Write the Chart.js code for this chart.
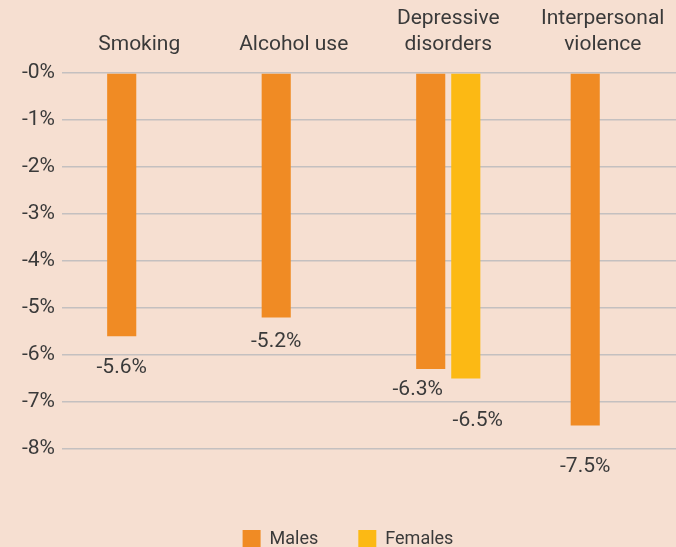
<!DOCTYPE html>
<html>
<head>
<meta charset="utf-8">
<script src="https://cdn.jsdelivr.net/npm/chart.js@4"></script>
<style>
  html, body { margin: 0; padding: 0; overflow: hidden; background: #f6dfd1; }
  #wrap { width: 680px; height: 558px; position: relative; }
</style>
</head>
<body>
<div id="wrap"><canvas id="chart"></canvas></div>
<script>
// ======================
// DATA
// ======================
const categories = ["Smoking", "Alcohol use", ["Depressive", "disorders"], ["Interpersonal", "violence"]];
const males = [-5.6, -5.2, -6.3, -7.5];
const females = [null, null, -6.5, null];
const yTicks = [0, -1, -2, -3, -4, -5, -6, -7, -8];

// label nudges (px) so the value text sits like the original
const nudgeX = [[0, 0, -13, 0], [0, 0, 12, 0]];
const nudgeY = [[32, 24, 21, 41], [0, 0, 42, 0]];

const TEXT = "#3a3a3a";
const FONT = "Roboto";

// draw value labels under each bar
const valueLabels = {
  id: "valueLabels",
  afterDatasetsDraw(chart) {
    const ctx = chart.ctx;
    ctx.save();
    ctx.font = "21px " + FONT;
    ctx.fillStyle = TEXT;
    ctx.textAlign = "center";
    ctx.textBaseline = "middle";
    chart.data.datasets.forEach((ds, di) => {
      const meta = chart.getDatasetMeta(di);
      meta.data.forEach((bar, i) => {
        const v = ds.data[i];
        if (v === null) return;
        ctx.fillText(v.toFixed(1) + "%", bar.x + nudgeX[di][i], bar.y + nudgeY[di][i]);
      });
    });
    ctx.restore();
  }
};

new Chart(document.getElementById("chart"), {
  type: "bar",
  data: {
    labels: categories,
    datasets: [
      {
        label: "Males",
        data: males,
        backgroundColor: "#f08b24",
        categoryPercentage: 0.454,
        barPercentage: 0.83
      },
      {
        label: "Females",
        data: females,
        backgroundColor: "#fcb914",
        categoryPercentage: 0.454,
        barPercentage: 0.83
      }
    ]
  },
  options: {
    responsive: true,
    maintainAspectRatio: false,
    animation: false,
    layout: { padding: { left: 16 } },
    plugins: {
      tooltip: { enabled: false },
      legend: {
        position: "bottom",
        labels: {
          color: TEXT,
          font: { family: FONT, size: 18 },
          boxWidth: 18,
          boxHeight: 18,
          padding: 40
        }
      }
    },
    scales: {
      x: {
        position: "top",
        grid: { display: false, drawTicks: false },
        border: { display: false },
        ticks: {
          color: TEXT,
          font: { family: FONT, size: 21, lineHeight: 1.25 },
          padding: 15,
          maxRotation: 0,
          autoSkip: false
        },
        afterFit: s => { s.height = 73; }
      },
      x2: {
        type: "category",
        position: "bottom",
        grid: { display: false, drawTicks: false },
        border: { display: false },
        ticks: { display: false },
        afterFit: s => { s.height = 41; }
      },
      y: {
        min: -8,
        max: 0,
        grid: { color: "#c4c0c0", lineWidth: 1.5, drawTicks: false },
        border: { display: false },
        afterBuildTicks: s => { s.ticks = yTicks.map(v => ({ value: v })); },
        ticks: {
          color: TEXT,
          font: { family: FONT, size: 21 },
          padding: 7,
          callback: v => "-" + Math.abs(v) + "%"
        },
        afterFit: s => { s.width = 46; }
      }
    }
  },
  plugins: [valueLabels]
});
</script>
</body>
</html>
